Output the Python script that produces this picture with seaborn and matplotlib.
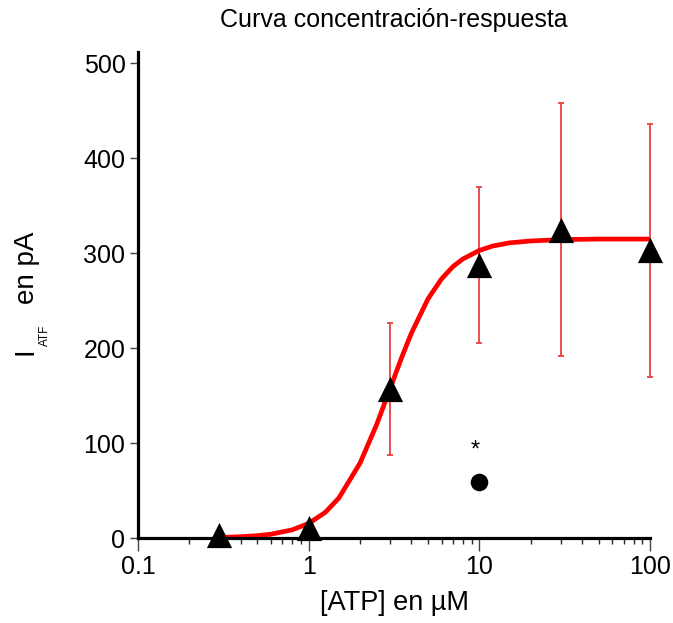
import matplotlib
matplotlib.use("Agg")
import matplotlib.pyplot as plt
import seaborn as sns
import pandas as pd

# concentraciones de ATP (uM) y corriente media (pA)
conc = [0.3, 1, 3, 10, 30, 100]
corriente = [3, 11, 157, 288, 325, 303]
error = [0, 0, 70, 82, 133, 133]

# punto aislado (con asterisco)
conc_pt = [10]
corriente_pt = [59]

# curva ajustada
curva_x = [0.3, 0.4, 0.5, 0.6, 0.8, 1, 1.25, 1.5, 2, 2.5, 3, 3.5, 4, 5, 6, 7,
           8, 10, 12, 15, 20, 30, 50, 100]
curva_y = [0.6, 1.4, 2.5, 4.0, 8.6, 15.4, 27, 42, 79, 119.5, 157.5, 190, 216,
           252, 273, 286, 294, 303, 307.7, 311, 313, 314.4, 315, 315]

sns.set_style("ticks")
plt.rcParams['font.family'] = ['Liberation Sans', 'DejaVu Sans']
plt.rcParams['text.color'] = 'black'
plt.rcParams['xtick.labelcolor'] = 'black'
plt.rcParams['ytick.labelcolor'] = 'black'

fig = plt.figure(figsize=(6.73, 6.23), dpi=100)
ax = fig.add_axes([0.205, 0.1364, 0.761, 0.78])

df_curva = pd.DataFrame({"x": curva_x, "y": curva_y})
sns.lineplot(data=df_curva, x="x", y="y", color="red", lw=3.4, ax=ax, zorder=2)

eb = ax.errorbar(conc, corriente, yerr=error, fmt="none", ecolor="#e8403f",
                 elinewidth=1.3, capsize=2.5, capthick=1.3, zorder=1)
for art in eb.lines[1] + eb.lines[2]:
    art.set_clip_on(False)

df = pd.DataFrame({"x": conc, "y": corriente})
sns.scatterplot(data=df, x="x", y="y", marker="^", s=330, color="black",
                edgecolor="black", linewidth=0, ax=ax, zorder=3, clip_on=False)

df_pt = pd.DataFrame({"x": conc_pt, "y": corriente_pt})
sns.scatterplot(data=df_pt, x="x", y="y", marker="o", s=160, color="black",
                edgecolor="black", linewidth=0, ax=ax, zorder=3)
ax.text(9.4, 92, "*", fontsize=17, ha="center", va="center", color="black")

ax.set_xscale("log")
ax.set_xlim(0.1, 100)
ax.set_ylim(0, 512)
ax.set_xticks([0.1, 1, 10, 100])
ax.set_xticklabels(["0.1", "1", "10", "100"])
ax.set_yticks([0, 100, 200, 300, 400, 500])
ax.tick_params(axis="both", labelsize=18, direction="out", width=1,
               color="#444444", labelcolor="black")
ax.tick_params(axis="x", which="major", length=9)
ax.tick_params(axis="x", which="minor", length=4, width=1)
ax.tick_params(axis="y", length=6, pad=3)

for s in ["top", "right"]:
    ax.spines[s].set_visible(False)
for s in ["left", "bottom"]:
    ax.spines[s].set_linewidth(2.3)
    ax.spines[s].set_color("black")

ax.set_xlabel("[ATP] en \u00b5M", fontsize=19.5, labelpad=8, color="black")
ax.set_ylabel("")
ax.set_title("Curva concentraci\u00f3n-respuesta", fontsize=18, pad=18,
             color="black")

# etiqueta del eje y con subindice
fig.text(0.038, 0.436, "I", rotation=90, fontsize=20, ha="center", va="center")
fig.text(0.067, 0.462, "ATF", rotation=90, fontsize=8.5, ha="center", va="center")
fig.text(0.040, 0.570, "en pA", rotation=90, fontsize=20, ha="center", va="center")

fig.savefig("out.png", dpi=100)
